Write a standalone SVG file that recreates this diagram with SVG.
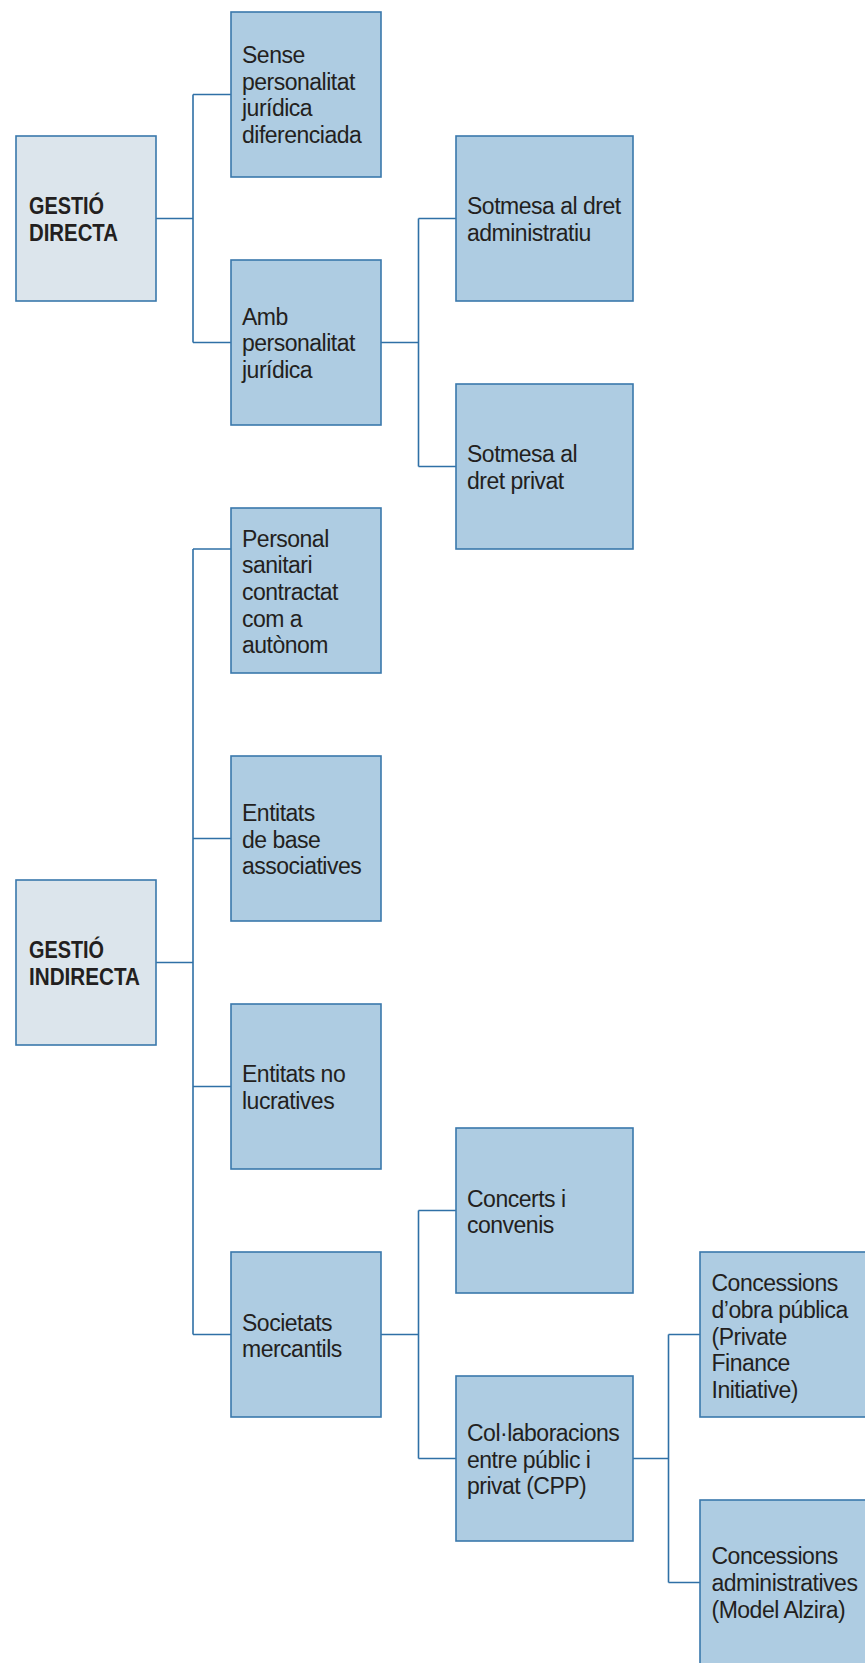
<svg xmlns="http://www.w3.org/2000/svg" width="865" height="1663" viewBox="0 0 865 1663">
<style>
.box{fill:#AECCE2;stroke:#3A78AC;stroke-width:1.6}
.root{fill:#DCE5EC;stroke:#3A78AC;stroke-width:1.6}
.t{font-family:"Liberation Sans",Arial,sans-serif;font-size:23px;letter-spacing:-0.5px;fill:#231F20}
.b{font-family:"Liberation Sans",Arial,sans-serif;font-size:23px;font-weight:bold;fill:#231F20}
.c{fill:none;stroke:#2F70A6;stroke-width:1.6}
</style>
<rect width="865" height="1663" fill="#FFFFFF"/>
<g id="connectors">
<path class="c" d="M156 218.5H193M193 94.5V342.5M193 94.5H231M193 342.5H231"/>
<path class="c" d="M381 342.5H418.5M418.5 218.5V466.5M418.5 218.5H456M418.5 466.5H456"/>
<path class="c" d="M156 962.5H193M193 549V1334.5M193 549H231M193 838.5H231M193 1086.5H231M193 1334.5H231"/>
<path class="c" d="M381 1334.5H418.5M418.5 1210.5V1458.5M418.5 1210.5H456M418.5 1458.5H456"/>
<path class="c" d="M633 1458.5H668.5M668.5 1334.5V1582.5M668.5 1334.5H700M668.5 1582.5H700"/>
</g>
<g id="gestio-directa">
<rect class="root" x="16" y="136" width="140" height="165"/>
<text class="b"><tspan x="29" y="213.5" textLength="75" lengthAdjust="spacingAndGlyphs">GESTIÓ</tspan><tspan x="29" y="240.5" textLength="89" lengthAdjust="spacingAndGlyphs">DIRECTA</tspan></text>
</g>
<g id="sense-personalitat">
<rect class="box" x="231" y="12" width="150" height="165"/>
<text class="t"><tspan x="242" y="63">Sense</tspan><tspan x="242" y="89.6">personalitat</tspan><tspan x="242" y="116.2">jurídica</tspan><tspan x="242" y="142.8">diferenciada</tspan></text>
</g>
<g id="amb-personalitat">
<rect class="box" x="231" y="260" width="150" height="165"/>
<text class="t"><tspan x="242" y="324.8">Amb</tspan><tspan x="242" y="351.4">personalitat</tspan><tspan x="242" y="378">jurídica</tspan></text>
</g>
<g id="dret-administratiu">
<rect class="box" x="456" y="136" width="177" height="165"/>
<text class="t"><tspan x="467" y="214">Sotmesa al dret</tspan><tspan x="467" y="240.6">administratiu</tspan></text>
</g>
<g id="dret-privat">
<rect class="box" x="456" y="384" width="177" height="165"/>
<text class="t"><tspan x="467" y="462">Sotmesa al</tspan><tspan x="467" y="488.6">dret privat</tspan></text>
</g>
<g id="gestio-indirecta">
<rect class="root" x="16" y="880" width="140" height="165"/>
<text class="b"><tspan x="29" y="958" textLength="75" lengthAdjust="spacingAndGlyphs">GESTIÓ</tspan><tspan x="29" y="985" textLength="111" lengthAdjust="spacingAndGlyphs">INDIRECTA</tspan></text>
</g>
<g id="personal-sanitari">
<rect class="box" x="231" y="508" width="150" height="165"/>
<text class="t"><tspan x="242" y="546.8">Personal</tspan><tspan x="242" y="573.4">sanitari</tspan><tspan x="242" y="600">contractat</tspan><tspan x="242" y="626.6">com a</tspan><tspan x="242" y="653.2">autònom</tspan></text>
</g>
<g id="entitats-base">
<rect class="box" x="231" y="756" width="150" height="165"/>
<text class="t"><tspan x="242" y="821">Entitats</tspan><tspan x="242" y="847.6">de base</tspan><tspan x="242" y="874.2">associatives</tspan></text>
</g>
<g id="entitats-no-lucratives">
<rect class="box" x="231" y="1004" width="150" height="165"/>
<text class="t"><tspan x="242" y="1082">Entitats no</tspan><tspan x="242" y="1108.6">lucratives</tspan></text>
</g>
<g id="societats-mercantils">
<rect class="box" x="231" y="1252" width="150" height="165"/>
<text class="t"><tspan x="242" y="1330.8">Societats</tspan><tspan x="242" y="1357.4">mercantils</tspan></text>
</g>
<g id="concerts-convenis">
<rect class="box" x="456" y="1128" width="177" height="165"/>
<text class="t"><tspan x="467" y="1206.6">Concerts i</tspan><tspan x="467" y="1233.2">convenis</tspan></text>
</g>
<g id="collaboracions">
<rect class="box" x="456" y="1376" width="177" height="165"/>
<text class="t"><tspan x="467" y="1441">Col·laboracions</tspan><tspan x="467" y="1467.6">entre públic i</tspan><tspan x="467" y="1494.2">privat (CPP)</tspan></text>
</g>
<g id="concessions-obra">
<rect class="box" x="700" y="1252" width="177" height="165"/>
<text class="t"><tspan x="711.5" y="1291.4">Concessions</tspan><tspan x="711.5" y="1318">d’obra pública</tspan><tspan x="711.5" y="1344.6">(Private</tspan><tspan x="711.5" y="1371.2">Finance</tspan><tspan x="711.5" y="1397.8">Initiative)</tspan></text>
</g>
<g id="concessions-administratives">
<rect class="box" x="700" y="1500" width="177" height="165"/>
<text class="t"><tspan x="711.5" y="1564.4">Concessions</tspan><tspan x="711.5" y="1591">administratives</tspan><tspan x="711.5" y="1617.6">(Model Alzira)</tspan></text>
</g>
</svg>
